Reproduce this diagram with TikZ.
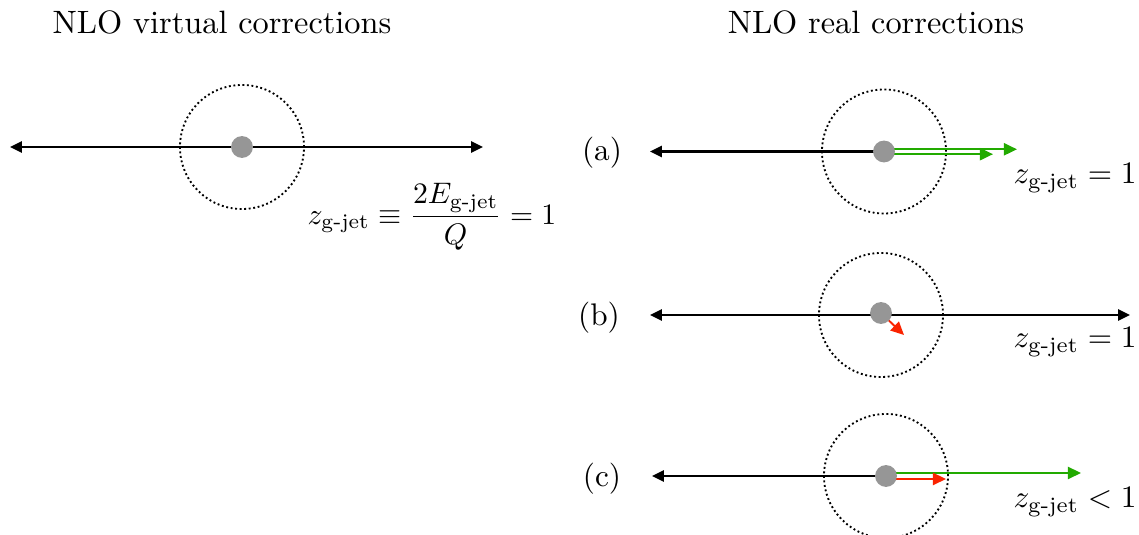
\documentclass[tikz,border=0pt]{standalone}
\usepackage{amsmath}
\usetikzlibrary{arrows.meta}
\definecolor{dotgray}{RGB}{150,150,150}
\definecolor{jetgreen}{RGB}{34,170,0}
\definecolor{jetred}{RGB}{250,35,0}
\tikzset{
  ring/.style={circle, draw=black, line width=0.6pt, dash pattern=on 0.6pt off 0.85pt, minimum size=39.7pt, inner sep=0pt},
  blob/.style={circle, fill=dotgray, minimum size=7pt, inner sep=0pt},
  axisline/.style={line width=0.65pt, black},
  bk/.style={-{Triangle[length=3.8pt,width=3.6pt]}},
  bkboth/.style={{Triangle[length=3.8pt,width=3.6pt]}-{Triangle[length=3.8pt,width=3.6pt]}},
  greenarr/.style={line width=0.6pt, jetgreen, -{Triangle[length=4.2pt,width=3.9pt]}},
  redarr/.style={line width=0.6pt, jetred, -{Triangle[length=4.2pt,width=3.9pt]}},
  lbl/.style={inner sep=0pt},
  ttl/.style={inner sep=0pt, scale=1.035}
}
\begin{document}
\begin{tikzpicture}[x=0.32pt,y=-0.32pt]
\useasboundingbox (0,0) rectangle (1139,535);
% titles
\node[ttl] (t1) at (222,22) {NLO virtual corrections};
\node[ttl] (t2) at (876,22) {NLO real corrections};

% ---- virtual ----
\coordinate (v0) at (242,147);
\coordinate (vl) at (10,147);
\coordinate (vr) at (483,147);
\node[ring] (cv) at (v0) {};
\draw[axisline,bkboth] (vl) -- (vr);
\node[blob] (dv) at (v0) {};
\node[lbl, scale=0.95] (fv) at (432,217) {$z_{\text{g-jet}} \equiv \dfrac{2E_{\text{g-jet}}}{Q} = 1$};

% ---- (a) ----
\node[lbl] (la) at (602,153) {(a)};
\coordinate (a0) at (884,151.5);
\coordinate (al) at (650,151.5);
\coordinate (ag1s) at (884,149.3);
\coordinate (ag1) at (1017,149.3);
\coordinate (ag2s) at (884,154.2);
\coordinate (ag2) at (993,154.2);
\node[ring] (ca) at (a0) {};
\draw[axisline,bk] (a0) -- (al);
\draw[greenarr] (ag1s) -- (ag1);
\draw[greenarr] (ag2s) -- (ag2);
\node[blob] (da) at (a0) {};
\node[lbl] (za) at (1075,178) {$z_{\text{g-jet}} = 1$};

% ---- (b) ----
\node[lbl] (lb) at (599,318) {(b)};
\coordinate (b0) at (881,315);
\coordinate (bl) at (650,315);
\coordinate (br) at (1130,315);
\coordinate (bred) at (904,335);
\node[ring] (cb) at (b0) {};
\draw[axisline,bkboth] (bl) -- (br);
\draw[redarr] (881,313) -- (bred);
\node[blob] (db) at (881,313) {};
\node[lbl] (zb) at (1075,342) {$z_{\text{g-jet}} = 1$};

% ---- (c) ----
\node[lbl] (lc) at (602,479) {(c)};
\coordinate (c0) at (886,476);
\coordinate (cl) at (652,476);
\coordinate (cgs) at (886,473);
\coordinate (cg) at (1081,473);
\coordinate (crs) at (886,479);
\coordinate (cr) at (946,479);
\node[ring] (cc) at (c0) {};
\draw[axisline,bk] (c0) -- (cl);
\draw[greenarr] (cgs) -- (cg);
\draw[redarr] (crs) -- (cr);
\node[blob] (dc) at (c0) {};
\node[lbl] (zc) at (1075,502) {$z_{\text{g-jet}} < 1$};
\end{tikzpicture}
\end{document}
